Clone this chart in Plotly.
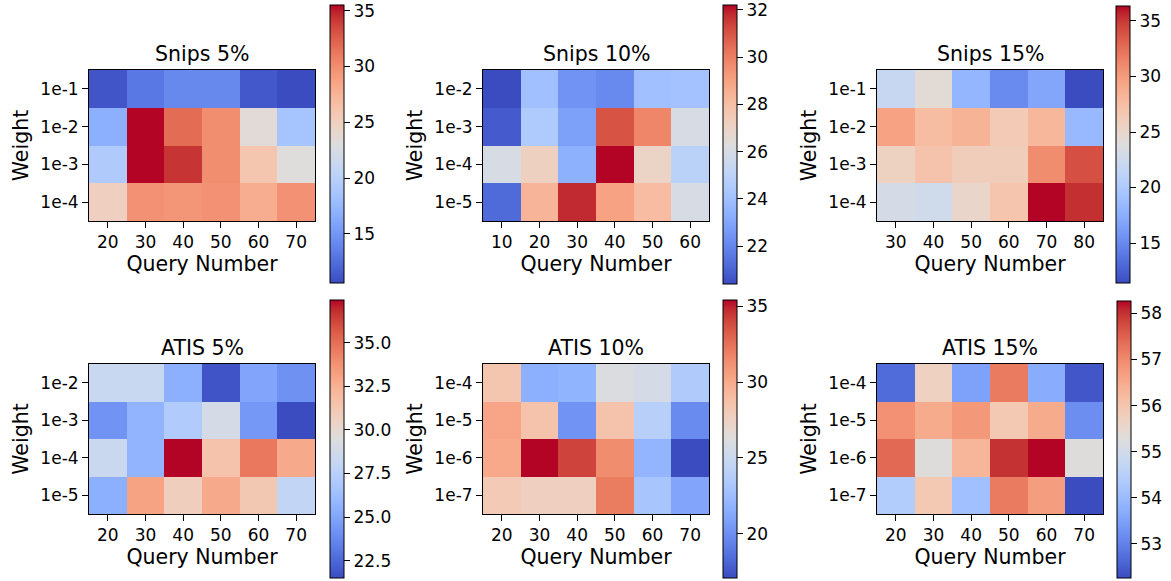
import plotly.graph_objects as go

# ---------------- data ----------------
snips5_query = ["20", "30", "40", "50", "60", "70"]
snips5_weight = ["1e-1", "1e-2", "1e-3", "1e-4"]
snips5_vals = [
    [11.1, 13.1, 14.1, 14.1, 11.3, 10.6],
    [16.8, 35.5, 31.8, 30.0, 23.5, 18.6],
    [19.3, 35.5, 34.3, 30.0, 26.0, 23.1],
    [25.0, 29.8, 29.5, 29.8, 28.0, 29.8],
]

snips10_query = ["10", "20", "30", "40", "50", "60"]
snips10_weight = ["1e-2", "1e-3", "1e-4", "1e-5"]
snips10_vals = [
    [20.4, 24.0, 22.4, 22.1, 24.0, 24.1],
    [20.8, 24.5, 22.8, 31.0, 29.8, 26.0],
    [26.0, 27.2, 23.4, 32.2, 27.0, 24.9],
    [21.2, 28.4, 31.8, 29.0, 28.1, 26.0],
]

snips15_query = ["30", "40", "50", "60", "70", "80"]
snips15_weight = ["1e-1", "1e-2", "1e-3", "1e-4"]
snips15_vals = [
    [21.9, 24.4, 18.1, 15.1, 16.9, 11.4],
    [29.6, 27.6, 28.4, 26.4, 28.1, 18.4],
    [25.6, 27.1, 26.1, 26.1, 30.9, 34.0],
    [23.1, 22.6, 25.1, 26.9, 36.35, 35.3],
]

atis5_query = ["20", "30", "40", "50", "60", "70"]
atis5_weight = ["1e-2", "1e-3", "1e-4", "1e-5"]
atis5_vals = [
    [28.3, 28.3, 25.5, 21.8, 25.0, 24.1],
    [24.2, 25.7, 27.1, 28.9, 24.4, 21.5],
    [28.4, 25.7, 37.45, 31.5, 34.7, 32.8],
    [25.5, 33.1, 30.8, 32.8, 31.2, 28.0],
]

atis10_query = ["20", "30", "40", "50", "60", "70"]
atis10_weight = ["1e-4", "1e-5", "1e-6", "1e-7"]
atis10_vals = [
    [28.4, 21.7, 21.9, 26.1, 25.7, 23.5],
    [30.3, 28.6, 20.2, 28.6, 23.9, 19.8],
    [30.1, 35.4, 34.1, 31.4, 22.0, 17.1],
    [28.1, 27.7, 27.7, 32.1, 23.1, 21.1],
]

atis15_query = ["20", "30", "40", "50", "60", "70"]
atis15_weight = ["1e-4", "1e-5", "1e-6", "1e-7"]
atis15_vals = [
    [52.7, 55.7, 53.5, 57.2, 53.7, 52.4],
    [56.9, 56.5, 56.8, 55.9, 56.5, 53.2],
    [57.4, 55.3, 56.3, 58.0, 58.27, 55.3],
    [54.4, 55.9, 54.1, 57.2, 56.7, 52.26],
]

titles = ["Snips 5%", "Snips 10%", "Snips 15%", "ATIS 5%", "ATIS 10%", "ATIS 15%"]

# ---------------- styling ----------------
W, H = 1171, 581
OFF = 0  # page body margin is removed by the post script below
FONT = "DejaVu Sans"
TICK_SIZE = 17
LABEL_SIZE = 20.5


def fx(px):
    return (px - OFF) / W


def fy(py):
    return 1 - (py - OFF) / H


coolwarm_rgb = [
    (59, 76, 192), (68, 90, 204), (77, 104, 215), (87, 117, 225), (98, 130, 234),
    (108, 142, 241), (119, 154, 247), (130, 165, 251), (141, 176, 254), (152, 185, 255),
    (163, 194, 255), (174, 201, 253), (184, 208, 249), (194, 213, 244), (204, 217, 238),
    (213, 219, 230), (221, 221, 221), (229, 216, 209), (236, 211, 197), (241, 204, 185),
    (245, 196, 173), (247, 187, 160), (247, 177, 148), (247, 166, 135), (244, 154, 123),
    (241, 141, 111), (236, 127, 99), (229, 112, 88), (222, 96, 77), (213, 80, 66),
    (203, 62, 56), (192, 40, 47), (180, 4, 38),
]
n = len(coolwarm_rgb) - 1
coolwarm = [[i / n, "rgb(%d,%d,%d)" % c] for i, c in enumerate(coolwarm_rgb)]

# pixel layout: heatmap (x0, x1, y0, y1), colorbar (cx, cy0, cy1), dtick, tickformat
panels = [
    (snips5_query, snips5_weight, snips5_vals, (89, 315, 70, 221), (330, 5, 283), 5, None),
    (snips10_query, snips10_weight, snips10_vals, (483, 709, 70, 221), (723, 5, 284), 2, None),
    (snips15_query, snips15_weight, snips15_vals, (877, 1103, 70, 221), (1116, 6, 283), 5, None),
    (atis5_query, atis5_weight, atis5_vals, (89, 315, 364, 514), (330, 300, 578), 2.5, ".1f"),
    (atis10_query, atis10_weight, atis10_vals, (483, 709, 364, 514), (723, 300, 578), 5, None),
    (atis15_query, atis15_weight, atis15_vals, (877, 1103, 364, 514), (1117, 301, 578), 1, None),
]

fig = go.Figure()
annotations = []
layout_axes = {}

for i, (q, w, z, (x0, x1, y0, y1), (cx, cy0, cy1), dt, tf) in enumerate(panels):
    k = "" if i == 0 else str(i + 1)
    flat = [v for row in z for v in row]
    cb = dict(
        x=fx(cx), xanchor="left", xpad=0, ypad=0,
        y=(fy(cy0) + fy(cy1)) / 2, yanchor="middle",
        len=(cy1 - cy0) / H, lenmode="fraction",
        thickness=14, thicknessmode="pixels",
        outlinewidth=1, outlinecolor="black",
        ticks="outside", ticklen=6, tickwidth=1, tickcolor="black",
        ticklabeloverflow="allow",
        tickfont=dict(family=FONT, size=TICK_SIZE, color="black"),
        dtick=dt, tick0=0,
    )
    if tf:
        cb["tickformat"] = tf
    fig.add_trace(go.Heatmap(
        x=q, y=w, z=z,
        colorscale=coolwarm, zmin=min(flat), zmax=max(flat),
        xaxis="x" + k, yaxis="y" + k,
        colorbar=cb, xgap=0, ygap=0,
        hovertemplate="Query %{x}<br>Weight %{y}<br>%{z}<extra></extra>",
    ))
    common = dict(
        showline=True, mirror=True, linecolor="black", linewidth=1,
        ticks="outside", ticklen=6, tickwidth=1, tickcolor="black",
        showgrid=False, zeroline=False, type="category",
        tickfont=dict(family=FONT, size=TICK_SIZE, color="black"),
    )
    layout_axes["xaxis" + k] = dict(
        common, domain=[fx(x0), fx(x1)], anchor="y" + k,
        title=dict(text="Query Number", font=dict(family=FONT, size=LABEL_SIZE, color="black"), standoff=2),
    )
    layout_axes["yaxis" + k] = dict(
        common, domain=[fy(y1), fy(y0)], anchor="x" + k, autorange="reversed",
        title=dict(text="Weight", font=dict(family=FONT, size=LABEL_SIZE, color="black"), standoff=6),
    )
    annotations.append(dict(
        text=titles[i], x=fx((x0 + x1) / 2), y=fy(y0 - 16),
        xref="paper", yref="paper", xanchor="center", yanchor="middle",
        showarrow=False, font=dict(family=FONT, size=LABEL_SIZE, color="black"),
    ))

fig.update_layout(
    width=W, height=H,
    margin=dict(l=0, r=0, t=0, b=0, autoexpand=False),
    paper_bgcolor="white", plot_bgcolor="white",
    font=dict(family=FONT, color="black"),
    annotations=annotations,
    **layout_axes,
)

fig.write_html(
    "out.html",
    config={"displayModeBar": False},
    post_script="document.body.style.margin='0px';",
)
